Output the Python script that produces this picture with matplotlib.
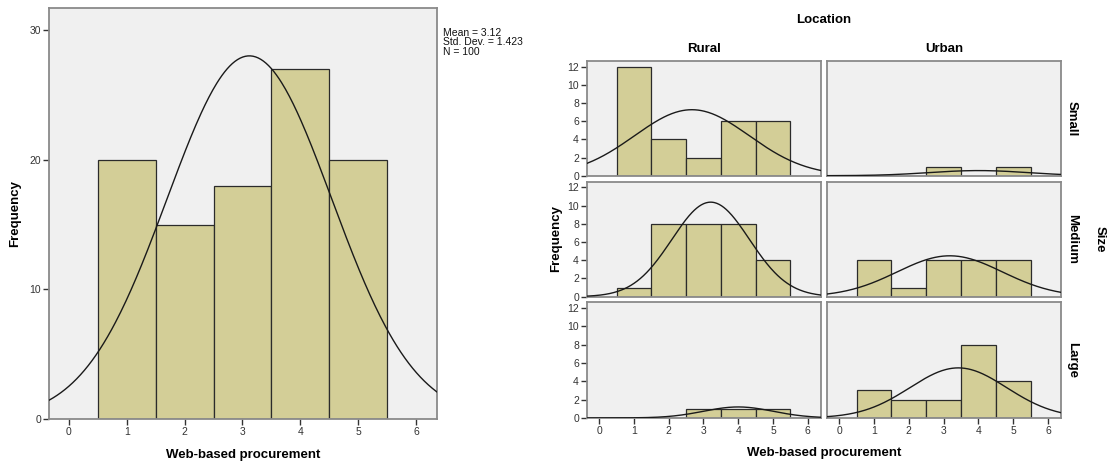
import numpy as np
import matplotlib
matplotlib.use("Agg")
import matplotlib.pyplot as plt

plt.rcParams['font.family'] = ['Liberation Sans', 'DejaVu Sans']

# ---------------- data ----------------
scores = [1, 2, 3, 4, 5]
overall_counts = [20, 15, 18, 27, 20]

locations = ["Rural", "Urban"]
sizes = ["Small", "Medium", "Large"]
rural_small = [12, 4, 2, 6, 6]
urban_small = [0, 0, 1, 0, 1]
rural_medium = [1, 8, 8, 8, 4]
urban_medium = [4, 1, 4, 4, 4]
rural_large = [0, 0, 1, 1, 1]
urban_large = [3, 2, 2, 8, 4]

panel_counts = {
    ("Small", "Rural"): rural_small, ("Small", "Urban"): urban_small,
    ("Medium", "Rural"): rural_medium, ("Medium", "Urban"): urban_medium,
    ("Large", "Rural"): rural_large, ("Large", "Urban"): urban_large,
}

xlabel = "Web-based procurement"
ylabel = "Frequency"

# ---------------- style ----------------
W, H = 1114, 466
BG = "#F0F0F0"
BAR = "#D3CE97"
EDGE = "#2b2b2b"
FRAME = "#8a8a8a"
XLIM = (-0.34, 6.37)


def fx(px):
    return px / W


def fy(py):
    return 1 - py / H


def stats(vals, counts):
    v = np.repeat(vals, counts).astype(float)
    n = len(v)
    m = v.mean()
    s = v.std(ddof=1) if n > 1 else 0.0
    return m, s, n


def style_ax(ax, yticks, ylim, show_x=True, show_y=True):
    ax.set_facecolor(BG)
    for sp in ax.spines.values():
        sp.set_color(FRAME)
        sp.set_linewidth(1.3)
    ax.set_xlim(*XLIM)
    ax.set_ylim(*ylim)
    ax.set_xticks(range(0, 7))
    ax.set_yticks(yticks)
    ax.tick_params(axis='both', labelsize=7.5, color="#333333", length=4,
                   width=1, direction='out', pad=2, labelcolor="#333333")
    if not show_x:
        ax.tick_params(axis='x', length=0, labelbottom=False)
    if not show_y:
        ax.tick_params(axis='y', length=0, labelleft=False)


def draw_hist(ax, counts):
    ax.bar(scores, counts, width=1.0, color=BAR, edgecolor=EDGE,
           linewidth=0.9, zorder=2)
    m, s, n = stats(scores, counts)
    if s > 0:
        xs = np.linspace(XLIM[0], XLIM[1], 300)
        ys = n * np.exp(-0.5 * ((xs - m) / s) ** 2) / (s * np.sqrt(2 * np.pi))
        ax.plot(xs, ys, color="#1a1a1a", lw=1.0, zorder=3)
    return m, s, n


fig = plt.figure(figsize=(W / 100, H / 100), dpi=100)

# ---------------- left chart ----------------
L, R, T, B = 49.3, 437.3, 8.3, 419
axL = fig.add_axes([fx(L), fy(B), fx(R - L), (B - T) / H])
style_ax(axL, [0, 10, 20, 30], (0, 31.7))
m, s, n = draw_hist(axL, overall_counts)
fig.text(fx(443), fy(27.5), f"Mean = {m:.2f}\nStd. Dev. = {s:.3f}\nN = {n}",
         fontsize=7.5, va='top', ha='left', linespacing=0.95, color="#111111")
fig.text(fx((L + R) / 2), fy(455), xlabel, fontsize=9.5, fontweight='bold',
         ha='center', va='center')
fig.text(fx(15), fy((T + B) / 2), ylabel, fontsize=9.5, fontweight='bold',
         ha='center', va='center', rotation=90)

# ---------------- right panels ----------------
cols = [(587.3, 820.7), (827.3, 1061.0)]
rows = [(61.0, 175.7), (181.7, 296.7), (302.3, 417.9)]
for ri, size in enumerate(sizes):
    for ci, loc in enumerate(locations):
        l, r = cols[ci]
        t, b = rows[ri]
        ax = fig.add_axes([fx(l), fy(b), fx(r - l), (b - t) / H])
        style_ax(ax, [0, 2, 4, 6, 8, 10, 12], (0, 12.63),
                 show_x=(ri == len(sizes) - 1), show_y=(ci == 0))
        draw_hist(ax, panel_counts[(size, loc)])
        if ri == 0:
            fig.text(fx((l + r) / 2), fy(49), loc, fontsize=9.5,
                     fontweight='bold', ha='center', va='center')
        if ci == len(locations) - 1:
            fig.text(fx(1072), fy((t + b) / 2), size, fontsize=9.5,
                     fontweight='bold', ha='center', va='center',
                     rotation=-90)

fig.text(fx((cols[0][0] + cols[1][1]) / 2), fy(20), "Location", fontsize=9.5,
         fontweight='bold', ha='center', va='center')
fig.text(fx(1100), fy(239), "Size", fontsize=9.5, fontweight='bold',
         ha='center', va='center', rotation=-90)
fig.text(fx((cols[0][0] + cols[1][1]) / 2), fy(453), xlabel, fontsize=9.5,
         fontweight='bold', ha='center', va='center')
fig.text(fx(556), fy(239), ylabel, fontsize=9.5, fontweight='bold',
         ha='center', va='center', rotation=90)

fig.savefig("out.png", dpi=100, facecolor="white")
